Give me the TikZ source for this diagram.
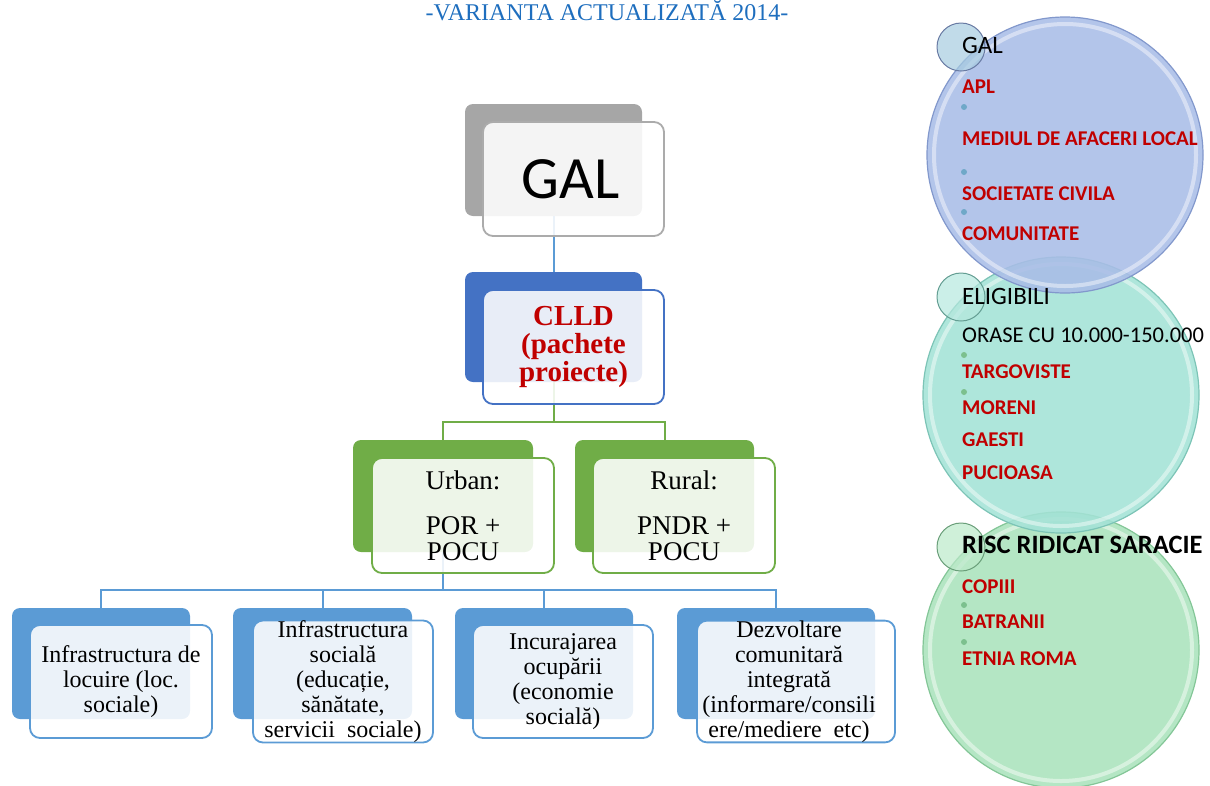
\documentclass[tikz,border=0pt]{standalone}
\usepackage{fontspec}
\setmainfont{Liberation Serif}
\newfontfamily\carl{Carlito}
\definecolor{titleblue}{HTML}{1E6EBE}
\definecolor{galgray}{HTML}{A6A6A6}
\definecolor{galedge}{HTML}{ABABAB}
\definecolor{clldblue}{HTML}{4472C4}
\definecolor{grn}{HTML}{70AD47}
\definecolor{lblue}{HTML}{5B9BD5}
\definecolor{dred}{HTML}{C00000}
\definecolor{c1fill}{HTML}{A9BDE7}
\definecolor{c1edge}{HTML}{8298CC}
\definecolor{c2fill}{HTML}{A3E2D6}
\definecolor{c2edge}{HTML}{7CC4B6}
\definecolor{c3fill}{HTML}{AAE3BC}
\definecolor{c3edge}{HTML}{83C697}
\definecolor{dotc}{HTML}{6FA8C8}
\definecolor{dotg}{HTML}{7CC08E}
\begin{document}
\begin{tikzpicture}[x=1pt,y=-1pt,
  backbox/.style={rounded corners=8pt, inner sep=0pt},
  frontbox/.style={rounded corners=10pt, fill=white, fill opacity=0.88, text opacity=1, line width=1.8pt, inner sep=0pt, align=center},
  conn/.style={line width=2pt},
  bigc/.style={circle, inner sep=0pt, minimum size=276pt, fill opacity=0.88, line width=1.2pt},
  smallc/.style={circle, inner sep=0pt, minimum size=48pt, fill opacity=0.7, line width=1pt},
  bdot/.style={circle, inner sep=0pt, minimum size=6pt},
  rtxt/.style={anchor=base west, inner sep=0pt, text=dred, font=\carl\bfseries\fontsize{21}{21}\selectfont},
  ktxt/.style={anchor=base west, inner sep=0pt, text=black},
  bottxt/.style={font=\fontsize{24}{25}\selectfont}
]
\useasboundingbox (0,0) rectangle (1210,785);

% title
\node[anchor=base, inner sep=0pt, text=titleblue, font=\fontsize{24}{24}\selectfont] (title) at (607,20) {-VARIANTA ACTUALIZATĂ 2014-};

% back boxes
\node[backbox, fill=galgray, minimum width=177pt, minimum height=112pt] (galB) at (553.5,160) {};
\node[backbox, fill=clldblue, minimum width=177pt, minimum height=110pt] (clldB) at (553.5,327) {};
\node[backbox, fill=grn, minimum width=180pt, minimum height=112pt] (urbB) at (443,496) {};
\node[backbox, fill=grn, minimum width=179pt, minimum height=112pt] (rurB) at (664.5,496) {};
\node[backbox, fill=lblue, minimum width=178pt, minimum height=111pt] (b1B) at (101,663.5) {};
\node[backbox, fill=lblue, minimum width=179pt, minimum height=111pt] (b2B) at (322.5,663.5) {};
\node[backbox, fill=lblue, minimum width=178pt, minimum height=111pt] (b3B) at (544,663.5) {};
\node[backbox, fill=lblue, minimum width=198pt, minimum height=111pt] (b4B) at (776,663.5) {};

% connectors
\coordinate (gj) at (553.5,422);
\coordinate (bj) at (443,590);
\draw[conn, draw=lblue] (galB.south) -- (clldB.north);
\draw[conn, draw=grn] (clldB.south) -- (gj);
\draw[conn, draw=grn] (urbB.north) |- (gj) -| (rurB.north);
\draw[conn, draw=lblue] (urbB.south) -- (bj);
\draw[conn, draw=lblue] (b1B.north) |- (bj) -| (b4B.north);
\draw[conn, draw=lblue] (b2B.north) -- (b2B.north |- bj);
\draw[conn, draw=lblue] (b3B.north) -- (b3B.north |- bj);

% front boxes
\node[frontbox, draw=galedge, minimum width=181pt, minimum height=114pt, font=\carl\fontsize{60}{60}\selectfont] (galF) at (573.5,179) {\hspace*{-6pt}GAL};
\node[frontbox, draw=clldblue, minimum width=181pt, minimum height=114pt, text=dred, font=\bfseries\fontsize{29}{28}\selectfont] (clldF) at (573.5,347) {CLLD\\(pachete\\proiecte)};
\node[frontbox, draw=grn, minimum width=182pt, minimum height=115pt, font=\fontsize{27}{26}\selectfont] (urbF) at (463,515.5) {Urban:\\[19pt]POR +\\POCU};
\node[frontbox, draw=grn, minimum width=182pt, minimum height=115pt, font=\fontsize{27}{26}\selectfont] (rurF) at (684,515.5) {Rural:\\[19pt]PNDR +\\POCU};
\node[frontbox, draw=lblue, minimum width=182pt, minimum height=113pt, bottxt] (b1F) at (121,681.5) {Infrastructura de\\locuire (loc.\\sociale)};
\node[frontbox, draw=lblue, minimum width=180pt, minimum height=113pt, bottxt] (b2F) at (343,681.5) {Infrastructura\\socială\\(educație,\\sănătate,\\servicii\ \ sociale)};
\node[frontbox, draw=lblue, minimum width=180pt, minimum height=113pt, bottxt] (b3F) at (563,681.5) {Incurajarea\\ocupării\\(economie\\socială)};
\node[frontbox, draw=lblue, minimum width=198pt, minimum height=113pt, bottxt] (b4F) at (796,681.5) {\hspace*{-14pt}Dezvoltare\\\hspace*{-14pt}comunitară\\\hspace*{-14pt}integrată\\\hspace*{-14pt}(informare/consili\\\hspace*{-14pt}ere/mediere\ \ etc)};

% circles (bottom first)
\node[bigc, fill=c3fill, draw=c3edge] (c3) at (1061,650) {};
\draw[white, opacity=0.45, line width=4pt] (c3.center) circle (131pt);
\node[bigc, fill=c2fill, draw=c2edge] (c2) at (1061,395) {};
\draw[white, opacity=0.45, line width=4pt] (c2.center) circle (131pt);
\node[bigc, fill=c1fill, draw=c1edge] (c1) at (1065,155) {};
\draw[white, opacity=0.45, line width=4pt] (c1.center) circle (131pt);

\node[smallc, fill=c1fill!60!c2fill, draw=c1edge!80!black] (s1) at (961,47) {};
\node[smallc, fill=c2fill!80!white, draw=c2edge!80!black] (s2) at (961,297) {};
\node[smallc, fill=c3fill!80!white, draw=c3edge!80!black] (s3) at (961,547) {};

% bullets
\node[bdot, fill=dotc] (d11) at (964,107) {};
\node[bdot, fill=dotc] (d12) at (964,172) {};
\node[bdot, fill=dotc] (d13) at (964,212) {};
\node[bdot, fill=dotg] (d21) at (964,355) {};
\node[bdot, fill=dotg] (d22) at (964,392) {};
\node[bdot, fill=dotg] (d31) at (964,605) {};
\node[bdot, fill=dotg] (d32) at (964,642) {};

% circle texts
\node[ktxt, font=\carl\fontsize{25}{25}\selectfont] (h1) at (962,53) {GAL};
\node[rtxt] (t11) at (962,93) {APL};
\node[rtxt] (t12) at (962,145) {MEDIUL DE AFACERI LOCAL};
\node[rtxt] (t13) at (962,200) {SOCIETATE CIVILA};
\node[rtxt] (t14) at (962,240) {COMUNITATE};

\node[ktxt, font=\carl\fontsize{25}{25}\selectfont] (h2) at (962,304) {ELIGIBILI};
\node[ktxt, font=\carl\fontsize{22.5}{22.5}\selectfont] (t20) at (962,342) {ORASE CU 10.000-150.000};
\node[rtxt] (t21) at (962,378) {TARGOVISTE};
\node[rtxt] (t22) at (962,414) {MORENI};
\node[rtxt] (t23) at (962,446) {GAESTI};
\node[rtxt] (t24) at (962,479) {PUCIOASA};

\node[ktxt, font=\carl\bfseries\fontsize{26.5}{26.5}\selectfont] (h3) at (962,553) {RISC RIDICAT SARACIE};
\node[rtxt] (t31) at (962,593) {COPIII};
\node[rtxt] (t32) at (962,628) {BATRANII};
\node[rtxt] (t33) at (962,665) {ETNIA ROMA};
\end{tikzpicture}
\end{document}
